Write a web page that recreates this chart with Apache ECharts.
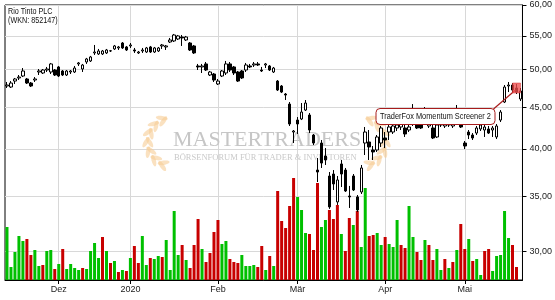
<!DOCTYPE html>
<html><head><meta charset="utf-8">
<script src="https://cdn.jsdelivr.net/npm/echarts@6/dist/echarts.min.js"></script>
<style>html,body{margin:0;padding:0;background:#fff}#c{width:555px;height:300px}</style>
</head><body><div id="c"></div>
<script>
const chartTitle = 'Rio Tinto PLC\n(WKN: 852147)';
const dates = [
'2019-11-13','2019-11-14','2019-11-15','2019-11-18','2019-11-19','2019-11-20','2019-11-21','2019-11-22','2019-11-25','2019-11-26','2019-11-27','2019-11-28','2019-11-29',
'2019-12-02','2019-12-03','2019-12-04','2019-12-05','2019-12-06','2019-12-09','2019-12-10','2019-12-11','2019-12-12','2019-12-13','2019-12-16','2019-12-17','2019-12-18','2019-12-19','2019-12-20','2019-12-23','2019-12-27','2019-12-30',
'2020-01-02','2020-01-03','2020-01-06','2020-01-07','2020-01-08','2020-01-09','2020-01-10','2020-01-13','2020-01-14','2020-01-15','2020-01-16','2020-01-17','2020-01-20','2020-01-21','2020-01-22','2020-01-23','2020-01-24','2020-01-27','2020-01-28','2020-01-29','2020-01-30','2020-01-31',
'2020-02-03','2020-02-04','2020-02-05','2020-02-06','2020-02-07','2020-02-10','2020-02-11','2020-02-12','2020-02-13','2020-02-14','2020-02-17','2020-02-18','2020-02-19','2020-02-20','2020-02-21','2020-02-24','2020-02-25','2020-02-26','2020-02-27','2020-02-28',
'2020-03-02','2020-03-03','2020-03-04','2020-03-05','2020-03-06','2020-03-09','2020-03-10','2020-03-11','2020-03-12','2020-03-13','2020-03-16','2020-03-17','2020-03-18','2020-03-19','2020-03-20','2020-03-23','2020-03-24','2020-03-25','2020-03-26','2020-03-27','2020-03-30','2020-03-31',
'2020-04-01','2020-04-02','2020-04-03','2020-04-06','2020-04-07','2020-04-08','2020-04-09','2020-04-14','2020-04-15','2020-04-16','2020-04-17','2020-04-20','2020-04-21','2020-04-22','2020-04-23','2020-04-24','2020-04-27','2020-04-28','2020-04-29','2020-04-30',
'2020-05-04','2020-05-05','2020-05-06','2020-05-07','2020-05-08','2020-05-11','2020-05-12','2020-05-13','2020-05-14','2020-05-15','2020-05-18','2020-05-19','2020-05-20','2020-05-21','2020-05-22'
];
// [open, close, low, high]
const ohlc = [
[47.76,47.89,47.49,48.30],[47.62,48.16,47.49,48.43],[48.43,48.71,48.03,48.85],[48.85,48.98,48.57,49.26],[49.12,49.82,48.98,50.24],
[48.71,48.16,48.03,48.85],[48.16,47.76,47.62,48.30],[48.57,48.71,48.30,48.98],[49.68,49.82,49.26,50.10],[49.54,49.96,49.40,50.10],
[49.96,50.10,49.68,50.39],[49.68,50.82,49.40,50.96],[49.96,49.26,49.12,50.10],[50.39,49.12,48.98,50.53],[49.82,49.26,49.12,49.96],
[49.26,49.82,49.12,49.96],[49.68,49.82,49.40,49.96],[49.68,50.24,49.54,50.53],[50.82,50.96,50.53,51.10],[50.10,50.67,49.68,50.82],
[51.10,51.54,50.82,51.69],[51.25,51.83,51.10,51.98],[52.42,52.56,52.12,53.61],[52.27,52.71,52.12,53.01],[52.27,52.71,52.12,52.86],
[52.42,52.86,52.27,53.01],[52.71,52.74,52.56,52.86],[53.01,53.46,52.86,53.61],[53.16,53.31,52.86,53.46],[53.91,53.16,53.01,54.06],
[53.31,52.86,52.71,53.46],[53.46,53.61,53.16,53.91],[52.86,52.71,52.42,53.16],[52.42,52.56,52.27,52.71],[52.71,52.86,52.42,53.16],
[52.56,53.16,52.42,53.31],[53.31,52.56,52.42,53.46],[52.56,53.16,52.42,53.31],[52.71,53.16,52.56,53.31],[53.46,53.61,53.01,53.76],
[53.31,53.46,52.86,53.61],[54.06,54.37,53.91,54.68],[54.22,55.14,54.06,55.30],[54.52,54.99,54.37,55.14],[54.83,54.68,53.46,55.14],
[54.37,54.83,54.22,54.99],[53.91,52.86,52.71,54.06],[53.46,52.42,52.27,53.61],[50.53,50.39,49.96,50.82],[50.39,50.53,49.54,50.82],
[50.82,49.96,49.82,51.10],[49.26,49.68,49.12,49.82],[49.40,48.57,48.30,49.54],[48.03,48.43,47.89,48.71],[49.12,49.82,48.98,49.96],
[49.54,50.82,49.26,51.25],[50.82,49.96,49.68,51.10],[50.39,49.54,49.26,50.53],[49.68,48.43,48.30,49.82],[49.82,48.85,48.71,49.96],
[49.96,50.67,49.68,50.96],[50.53,50.39,50.24,50.82],[50.67,50.82,50.39,51.10],[50.82,50.67,50.53,51.10],[49.96,49.82,49.68,50.39],
[50.67,50.82,50.24,50.96],[50.53,49.96,49.82,50.67],[49.68,50.24,49.54,50.39],[48.43,47.22,47.09,48.57],[47.76,46.95,46.82,47.89],
[46.69,46.56,45.91,46.82],[45.39,42.91,42.67,45.65],[41.95,42.07,40.67,42.19],[43.39,42.91,41.72,43.76],[43.52,44.38,43.39,45.52],
[44.63,45.52,44.51,45.91],[44.01,42.19,41.83,44.26],[41.60,40.67,40.44,41.72],[37.69,37.48,36.44,38.99],[40.67,38.44,37.91,41.02],
[39.21,38.77,38.23,40.10],[37.06,33.97,33.78,37.48],[37.27,36.24,35.63,37.69],[34.45,36.65,34.16,37.06],[38.34,37.27,35.93,38.77],
[37.69,35.53,35.43,37.91],[35.03,34.94,33.87,36.04],[37.06,35.63,35.53,37.27],[34.94,33.68,33.49,35.13],[35.43,37.91,35.23,38.23],
[40.67,41.95,39.32,42.55],[40.79,40.22,38.77,42.19],[39.88,39.66,38.77,40.33],[39.88,41.37,39.66,41.60],[40.67,42.43,40.22,42.67],
[41.25,41.02,40.10,41.95],[41.95,42.55,41.02,43.15],[41.95,42.67,41.72,43.03],[42.43,42.79,42.07,43.39],[42.55,42.91,42.19,43.64],
[42.43,41.72,41.37,43.15],[42.19,42.55,41.95,43.27],[42.91,43.27,42.67,45.39],[42.91,42.43,42.31,43.39],[42.91,42.43,42.31,43.15],
[43.15,43.39,42.91,45.01],[42.67,42.91,42.43,43.39],[42.43,41.25,41.13,42.79],[41.37,42.79,41.25,42.91],[42.91,42.79,42.55,43.52],
[42.67,43.03,42.43,43.64],[42.91,42.79,42.55,43.76],[42.67,42.91,42.43,43.64],[43.15,43.39,42.91,45.27],[42.91,42.55,42.43,43.27],
[40.67,40.33,39.99,40.90],[41.95,41.60,41.13,42.19],[41.60,41.25,41.02,41.83],[41.83,42.43,41.60,42.67],[42.31,42.79,42.07,43.03],
[42.19,42.55,41.37,43.15],[42.31,41.83,41.72,42.67],[42.19,42.43,41.37,42.67],[41.37,42.67,41.13,42.91],[43.39,44.38,43.15,44.63],
[45.65,47.62,45.52,47.89],[47.76,47.89,46.95,48.30],[47.89,47.22,46.95,48.16],[47.49,46.95,46.69,48.03],[46.04,47.09,45.78,47.49]
];
const volume = [
5300,1300,2800,4400,3900,4100,2500,3000,1400,1500,
2900,3000,1100,1600,3100,1100,1600,1200,1000,1200,
1100,2900,3700,2200,4300,2900,1700,1900,800,1000,
900,2200,3400,1700,4400,1500,2200,2100,2400,2300,
4000,1000,6900,2500,3500,2000,1200,3500,6100,3100,
1800,2700,4800,6000,3600,3900,2100,1800,1700,2500,
1400,1400,1500,1300,3400,1000,2400,1400,8900,5900,
5200,7400,10200,8300,7000,4700,4600,3000,9700,5300,
6000,7000,6100,7500,4600,2900,6200,5500,6900,3300,
9200,4400,4500,4700,3500,4300,3600,3300,6000,3500,
3200,7400,4300,2800,2000,4000,3500,2000,3100,1000,
2100,1200,1800,3000,5600,3100,4100,1900,2100,500,
2900,3100,900,2400,2500,6900,4200,3500,1300,null
];
const volumeUp = [
1,1,1,1,1,0,0,1,1,0, 1,1,0,1,0,1,1,1,1,0, 1,1,1,1,0,1,0,1,0,1, 0,1,0,0,1,1,0,1,1,0,
1,1,1,1,0,1,0,0,0,1, 0,0,0,0,1,1,0,0,0,1, 1,1,1,0,0,1,0,1,0,0, 0,0,0,1,1,1,0,0,0,1,
1,0,0,0,1,0,0,1,0,1, 1,0,0,1,1,0,1,1,1,0, 0,1,1,0,0,1,0,0,1,1, 0,1,0,1,0,0,1,0,1,1,
0,0,1,1,1,1,1,0,0,1
];
const priceTicks = [30, 35, 40, 45, 50, 55, 60];
const priceMin = 27.65, priceMax = 60;
const volumeMax = 27500;
const monthNames = ['Jan','Feb','Mär','Apr','Mai','Jun','Jul','Aug','Sep','Okt','Nov','Dez'];
const signal = { date: '2020-05-21', price: 47.49, text: 'TraderFox Momentum Screener 2' };
const watermark = { name: 'MASTERTRADERS', sub: 'BÖRSENFORUM FÜR TRADER & INVESTOREN' };

const FONT = '"Liberation Sans Narrow","Arial Narrow","Liberation Sans",Arial,sans-serif';
const GREEN = '#00c000', RED = '#c80000', GRIDC = '#d8d8d8';

const chart = echarts.init(document.getElementById('c'), null, { renderer: 'canvas' });
const monthStart = (i) => i > 0 && dates[i].slice(0, 7) !== dates[i - 1].slice(0, 7);

chart.setOption({
  animation: false,
  backgroundColor: '#fff',
  textStyle: { fontFamily: FONT },
  grid: { left: 5, right: 30, top: 5, bottom: 20, show: true, borderColor: '#000', borderWidth: 1, backgroundColor: '#fff', containLabel: false },
  xAxis: {
    type: 'category', data: dates, boundaryGap: true,
    axisLine: { show: true, lineStyle: { color: '#000', width: 1 } },
    axisTick: { show: true, alignWithLabel: true, interval: monthStart, length: 4, lineStyle: { color: '#000' } },
    axisLabel: {
      interval: monthStart, fontSize: 9, color: '#1a1a1a', margin: 5, fontFamily: FONT,
      formatter: (v) => { const m = +v.slice(5, 7); return m === 1 ? v.slice(0, 4) : monthNames[m - 1]; }
    },
    splitLine: { show: true, interval: monthStart, alignWithLabel: true, lineStyle: { color: GRIDC, width: 1 } }
  },
  yAxis: [
    {
      type: 'log', logBase: 10, position: 'right', min: priceMin, max: priceMax,
      axisLine: { show: true, lineStyle: { color: '#000' } },
      axisTick: { show: true, length: 4, customValues: priceTicks, lineStyle: { color: '#000' } },
      axisLabel: { customValues: priceTicks, fontSize: 9, color: '#222', margin: 7, fontFamily: FONT,
        formatter: (v) => Number(v).toFixed(2).replace('.', ',') },
      splitLine: { show: true, lineStyle: { color: GRIDC, width: 1 } }
    },
    { type: 'value', min: 0, max: volumeMax, show: false, splitLine: { show: false } }
  ],
  series: [
    {
      type: 'bar', yAxisIndex: 1, barWidth: 3, z: 1, silent: true,
      data: volume.map((v, i) => ({ value: v, itemStyle: { color: volumeUp[i] ? GREEN : RED } }))
    },
    {
      type: 'candlestick', yAxisIndex: 0, barWidth: 3, z: 3, silent: true,
      data: ohlc,
      itemStyle: { color: '#fff', color0: '#000', borderColor: '#000', borderColor0: '#000', borderColorDoji: '#000', borderWidth: 1 }
    }
  ]
});

// decorations (watermark, title, annotation)
const gfx = [];
gfx.push({ type: 'text', x: 8, y: 7, z: 5, silent: true, scaleX: 0.8, scaleY: 1,
  style: { text: chartTitle, font: '9px ' + FONT, fill: '#111', lineHeight: 9, verticalAlign: 'top' } });
gfx.push({ type: 'text', x: 173, y: 140, z: 1, silent: true,
  style: { text: watermark.name, font: '22px "Liberation Serif","Times New Roman",serif', fill: '#c6c6c6', verticalAlign: 'middle' } });
gfx.push({ type: 'text', x: 174, y: 158, z: 1, silent: true,
  style: { text: watermark.sub, font: '8.5px "Liberation Serif","Times New Roman",serif', fill: '#c9c9c9', verticalAlign: 'middle' } });
function laurel(cx, cy, mirror) {
  const kids = [];
  const r = 23, col = 'rgba(246,205,150,0.6)';
  const mx = (x) => mirror ? 2 * cx - x : x;
  for (let k = 0; k <= 6; k++) {
    const a = (112 + k * 22.5) * Math.PI / 180;
    const px = cx + r * Math.cos(a), py = cy + r * Math.sin(a);
    const tang = a - Math.PI / 2;
    [[0.55, 5], [-0.55, -1]].forEach(([tilt, off]) => {
      const phi = tang + tilt;
      const nx = px + Math.cos(a) * off * 0.6, ny = py + Math.sin(a) * off * 0.6;
      const scr = mirror ? Math.PI - phi : phi;
      kids.push({ type: 'ellipse', x: mx(nx), y: ny, rotation: -scr, z: 1, silent: true,
        shape: { cx: 0, cy: 0, rx: 6, ry: 2.2 }, style: { fill: col } });
    });
  }
  return kids;
}
laurel(172, 142, false).forEach(e => gfx.push(e));
laurel(172, 142, true).forEach(e => { e.x = e.x + (361 - 172); gfx.push(e); });

const sIdx = dates.indexOf(signal.date);
const p = chart.convertToPixel({ seriesIndex: 1 }, [sIdx, signal.price]);
const boxW = 119, boxH = 16;
const bx = p[0] - 22 - boxW, by = p[1] + 20;
gfx.push({ type: 'line', z: 20, silent: true, shape: { x1: bx + boxW - 1, y1: by + 1, x2: p[0] - 1, y2: p[1] + 2 },
  style: { stroke: '#a81c1c', lineWidth: 1.2 } });
gfx.push({ type: 'rect', z: 21, silent: true, shape: { x: bx + 0.5, y: by + 0.5, width: boxW, height: boxH, r: 4 },
  style: { fill: '#fff', stroke: '#a81c1c', lineWidth: 1 } });
gfx.push({ type: 'text', z: 22, silent: true, x: bx + boxW / 2 + 0.5, y: by + boxH / 2 + 1, scaleX: 0.82, scaleY: 1,
  style: { text: signal.text, font: '9px ' + FONT, fill: '#111', align: 'center', verticalAlign: 'middle' } });
gfx.push({ type: 'rect', z: 21, silent: true, shape: { x: p[0] - 4, y: p[1] - 5, width: 8, height: 10 },
  style: { fill: 'rgba(240,80,80,0.78)', stroke: 'rgba(210,40,40,0.9)', lineWidth: 0.5 } });

chart.setOption({ graphic: gfx });
</script></body></html>
